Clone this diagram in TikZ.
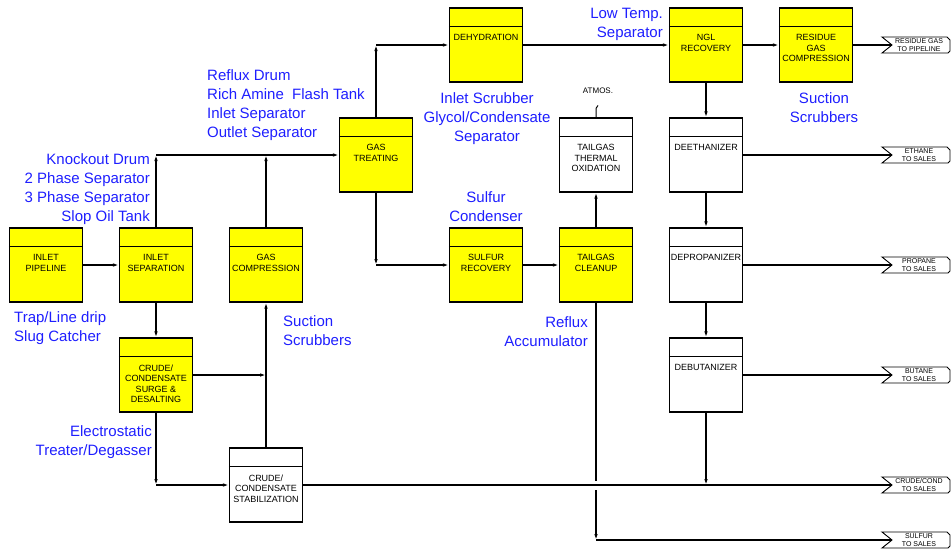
\documentclass[tikz,border=0pt]{standalone}
\usepackage{fontspec}
\setmainfont{Liberation Sans}
\usetikzlibrary{arrows.meta}

\definecolor{unityellow}{RGB}{255,255,0}
\definecolor{noteblue}{RGB}{30,30,255}

\tikzset{
    unit/.style = {draw, line width = 1.1pt, minimum width = 73pt, minimum height = 74pt, inner sep = 0pt},
    unittext/.style = {font = \fontsize{9}{10.5}\selectfont, align = center, inner sep = 0pt},
    stream/.style = {line width = 1.5pt},
    flow/.style = {stream, -{Latex[length = 6pt, width = 3.5pt]}},
    note/.style = {text = noteblue, font = \fontsize{15}{19}\selectfont, inner sep = 0pt},
    tagtext/.style = {font = \fontsize{7}{8}\selectfont, align = center, inner sep = 0pt},
}

% name, centre, fill, text
\newcommand{\procunit}[4]{
    \node [unit, fill = #3] (#1) at (#2) {};
    \draw [line width = 0.8pt] ([yshift = -19pt]#1.north west) -- ([yshift = -19pt]#1.north east);
    \node [unittext, anchor = north] (#1-t) at ([yshift = -27pt]#1.north) {#4};
}

% name, line height, text
\newcommand{\salestag}[3]{
    \coordinate (#1) at (892, #2);
    \draw [line width = 0.9pt] (882, #2 - 8) -- (947, #2 - 8) -- (950, #2 - 5) -- (950, #2 + 6)
        -- (948, #2 + 8) -- (882, #2 + 8) -- (#1) -- cycle;
    \node [tagtext] (#1-t) at (919, #2) {#3};
}

\begin{document}
\begin{tikzpicture}[x = 1pt, y = -1pt]
        \useasboundingbox (0, 0) rectangle (952, 550);

        \procunit{pipe}{46, 265}{unityellow}{INLET\\PIPELINE}
        \procunit{insep}{156, 265}{unityellow}{INLET\\SEPARATION}
        \procunit{comp}{266, 265}{unityellow}{GAS\\COMPRESSION}
        \procunit{surge}{156, 375}{unityellow}{CRUDE/\\CONDENSATE\\SURGE \&\\DESALTING}
        \procunit{stab}{266, 485}{white}{CRUDE/\\CONDENSATE\\STABILIZATION}
        \procunit{treat}{376, 155}{unityellow}{GAS\\TREATING}
        \procunit{dehy}{486, 45}{unityellow}{DEHYDRATION}
        \procunit{sulrec}{486, 265}{unityellow}{SULFUR\\RECOVERY}
        \procunit{tgclean}{596, 265}{unityellow}{TAILGAS\\CLEANUP}
        \procunit{tgox}{596, 155}{white}{TAILGAS\\THERMAL\\OXIDATION}
        \procunit{ngl}{706, 45}{unityellow}{NGL\\RECOVERY}
        \procunit{resid}{816, 45}{unityellow}{RESIDUE\\GAS\\COMPRESSION}
        \procunit{deeth}{706, 155}{white}{DEETHANIZER}
        \procunit{deprop}{706, 265}{white}{DEPROPANIZER}
        \procunit{debut}{706, 375}{white}{DEBUTANIZER}

        \salestag{residue-tag}{45}{RESIDUE GAS\\TO PIPELINE}
        \salestag{ethane-tag}{155}{ETHANE\\TO SALES}
        \salestag{propane-tag}{265}{PROPANE\\TO SALES}
        \salestag{butane-tag}{375}{BUTANE\\TO SALES}
        \salestag{crude-tag}{485}{CRUDE/COND\\TO SALES}
        \salestag{sulfur-tag}{540}{SULFUR\\TO SALES}

        \draw [flow] (pipe.east) -- (insep.west);
        \draw [flow] (insep.north) -- (insep.north |- treat.west);
        \draw [flow] (insep.north |- treat.west) -- (treat.west);
        \draw [flow] (comp.north) -- (comp.north |- treat.west);
        \draw [flow] (insep.south) -- (surge.north);
        \draw [flow] (surge.east) -- (surge.east -| comp.south);
        \draw [flow] (stab.north) -- (comp.south);
        \draw [flow] (surge.south) -- (surge.south |- stab.west);
        \draw [flow] (surge.south |- stab.west) -- (stab.west);
        \draw [stream] (stab.east) -- (crude-tag);
        \draw [flow] (debut.south) -- (debut.south |- stab.east);

        \draw [flow] (treat.north) -- (treat.north |- dehy.west);
        \draw [flow] (treat.north |- dehy.west) -- (dehy.west);
        \draw [flow] (treat.south) -- (treat.south |- sulrec.west);
        \draw [flow] (treat.south |- sulrec.west) -- (sulrec.west);
        \draw [flow] (sulrec.east) -- (tgclean.west);
        \draw [flow] (tgclean.north) -- (tgox.south);

        \coordinate (cross) at (tgclean.south |- stab.east);
        \draw [stream] (tgclean.south) -- ([yshift = 4pt]cross);
        \draw [flow] ([yshift = -5pt]cross) -- (tgclean.south |- sulfur-tag);
        \draw [stream] (tgclean.south |- sulfur-tag) -- (sulfur-tag);

        \coordinate (vent) at ([yshift = 9pt]tgox.north);
        \draw [line width = 1pt] (tgox.north) -- (vent) -- ++(2, -3);
        \node [font = \fontsize{8}{8}\selectfont, inner sep = 0pt] (atmos) at (598, 91) {ATMOS.};

        \draw [flow] (dehy.east) -- (ngl.west);
        \draw [flow] (ngl.east) -- (resid.west);
        \draw [stream] (resid.east) -- (residue-tag);
        \draw [flow] (ngl.south) -- (deeth.north);
        \draw [flow] (deeth.south) -- (deprop.north);
        \draw [flow] (deprop.south) -- (debut.north);
        \draw [stream] (deeth.east) -- (ethane-tag);
        \draw [stream] (deprop.east) -- (propane-tag);
        \draw [stream] (debut.east) -- (butane-tag);

        \node at (207, 69) [note, anchor = north west, align = left] (treat-n) {Reflux Drum\\Rich Amine\ \ Flash Tank\\Inlet Separator\\Outlet Separator};
        \node at (150, 153) [note, anchor = north east, align = right] (insep-n) {Knockout Drum\\2 Phase Separator\\3 Phase Separator\\Slop Oil Tank};
        \node at (14, 311) [note, anchor = north west, align = left] (pipe-n) {Trap/Line drip\\Slug Catcher};
        \node at (283, 315) [note, anchor = north west, align = left] (comp-n) {Suction\\Scrubbers};
        \node at (152, 425) [note, anchor = north east, align = right] (surge-n) {Electrostatic\\Treater/Degasser};
        \node at (487, 92) [note, anchor = north, align = center] (dehy-n) {Inlet Scrubber\\Glycol/Condensate\\Separator};
        \node at (663, 7.5) [note, anchor = north east, align = right] (ngl-n) {Low Temp.\\Separator};
        \node at (824, 92) [note, anchor = north, align = center] (resid-n) {Suction\\Scrubbers};
        \node at (486, 191) [note, anchor = north, align = center] (sulrec-n) {Sulfur\\Condenser};
        \node at (588, 316) [note, anchor = north east, align = right] (tgclean-n) {Reflux\\Accumulator};
    \end{tikzpicture}
\end{document}
